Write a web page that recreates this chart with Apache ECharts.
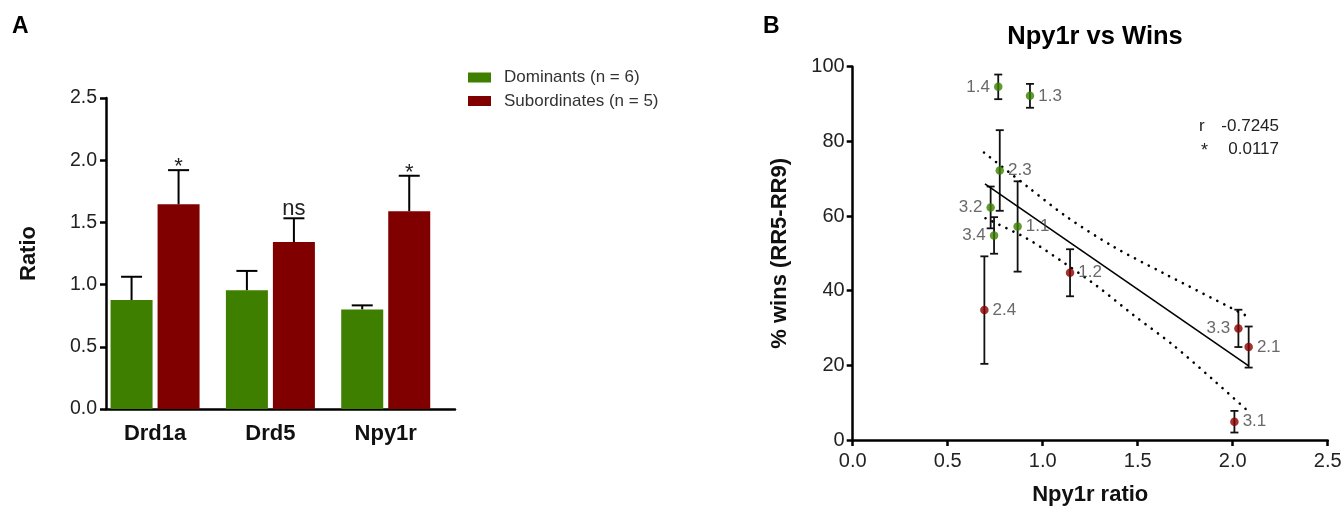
<!DOCTYPE html>
<html>
<head>
<meta charset="utf-8">
<title>Npy1r</title>
<script src="https://cdn.jsdelivr.net/npm/echarts@6/dist/echarts.min.js"></script>
<style>
  html, body { margin: 0; padding: 0; background: #fff; }
  #main { width: 1343px; height: 506px; }
</style>
</head>
<body>
<div id="main"></div>
<script>
// panel A: receptor ratios
const genes = ['Drd1a', 'Drd5', 'Npy1r'];
const domMean = [0.876, 0.954, 0.80];
const domErr = [0.187, 0.156, 0.033];
const subMean = [1.645, 1.342, 1.589];
const subErr = [0.275, 0.191, 0.286];
const sigText = ['*', 'ns', '*'];

// panel B: Npy1r ratio vs % wins, one point per animal
const domNames = ['1.4', '1.3', '2.3', '3.2', '3.4', '1.1'];
const domX = [0.766, 0.933, 0.774, 0.726, 0.744, 0.868];
const domY = [94.6, 92.2, 72.2, 62.3, 54.8, 57.2];
const domYErr = [3.3, 3.2, 10.8, 5.6, 4.9, 12.1];
const subNames = ['2.4', '1.2', '3.3', '2.1', '3.1'];
const subX = [0.693, 1.144, 2.030, 2.084, 2.009];
const subY = [34.8, 44.8, 29.9, 24.9, 4.9];
const subYErr = [14.4, 6.3, 5.0, 5.5, 2.9];
const labelLeft = ['1.4', '3.2', '3.4', '3.3'];

// regression line and 95% band
const fitX = [0.696, 2.082];
const fitY = [68.6, 19.9];
const upperX = [0.691, 0.924, 1.126, 1.372, 1.635, 1.995, 2.082];
const upperY = [77.0, 67.7, 59.8, 51.8, 44.7, 35.3, 33.0];
const lowerX = [0.699, 0.916, 1.091, 1.284, 1.477, 1.687, 1.898, 2.075];
const lowerY = [59.4, 54.0, 48.2, 41.3, 33.5, 25.4, 16.1, 8.0];

const corrR = '-0.7245';
const corrP = '0.0117';

const GREEN = '#3f7f00';
const RED = '#800000';
const FONT = '"Liberation Sans", Arial, sans-serif';
const pair = (xs, ys) => xs.map((x, i) => [x, ys[i]]);

let chartDom = document.getElementById('main');
let myChart = echarts.init(chartDom);

const barW = 42, barGapPx = 5;

function barErrors(offsetSign) {
  return function (params, api) {
    const i = api.value(0);
    const top = api.coord([i, api.value(1) + api.value(2)]);
    const base = api.coord([i, api.value(1)]);
    const x = base[0] + offsetSign * (barW + barGapPx) / 2;
    const children = [
      { type: 'line', shape: { x1: x, y1: base[1], x2: x, y2: top[1] }, style: { stroke: '#000', lineWidth: 2 } },
      { type: 'line', shape: { x1: x - 10.5, y1: top[1], x2: x + 10.5, y2: top[1] }, style: { stroke: '#000', lineWidth: 2 } }
    ];
    if (offsetSign > 0) {
      const star = sigText[i] === '*';
      children.push({
        type: 'text',
        style: {
          x: x, y: top[1] - (star ? 3 : 9), text: sigText[i], align: 'center', verticalAlign: 'middle',
          font: '22px ' + FONT, fill: '#222'
        }
      });
    }
    return { type: 'group', children: children };
  };
}

function pointErrors(params, api) {
  const x = api.value(0), y = api.value(1), e = api.value(2);
  const hi = api.coord([x, y + e]);
  const lo = api.coord([x, y - e]);
  const st = { stroke: '#111', lineWidth: 1.8 };
  return {
    type: 'group',
    children: [
      { type: 'line', shape: { x1: hi[0], y1: hi[1], x2: lo[0], y2: lo[1] }, style: st },
      { type: 'line', shape: { x1: hi[0] - 4, y1: hi[1], x2: hi[0] + 4, y2: hi[1] }, style: st },
      { type: 'line', shape: { x1: lo[0] - 4, y1: lo[1], x2: lo[0] + 4, y2: lo[1] }, style: st }
    ]
  };
}

function points(names, xs, ys) {
  return names.map((n, i) => ({
    name: n,
    value: [xs[i], ys[i]],
    label: { position: labelLeft.includes(n) ? 'left' : 'right' }
  }));
}

const axisBlack = { lineStyle: { color: '#000', width: 2.5 } };
const tickBlack = { inside: false, length: 6, lineStyle: { color: '#000', width: 2.5 } };

let option = {
  animation: false,
  textStyle: { fontFamily: FONT },
  title: [
    { text: 'A', left: 7, top: 10, textStyle: { fontSize: 23, fontWeight: 'bold', color: '#000', fontFamily: FONT } },
    { text: 'B', left: 758, top: 10, textStyle: { fontSize: 23, fontWeight: 'bold', color: '#000', fontFamily: FONT } },
    { text: 'Npy1r vs Wins', left: 1090, textAlign: 'center', top: 19, textStyle: { fontSize: 25.5, fontWeight: 'bold', color: '#000', fontFamily: FONT } }
  ],
  legend: {
    data: ['Dominants (n = 6)', 'Subordinates (n = 5)'],
    orient: 'vertical',
    left: 463,
    top: 64,
    itemWidth: 23,
    itemHeight: 10,
    itemGap: 6.5,
    icon: 'rect',
    textStyle: { fontSize: 17, color: '#333', fontFamily: FONT, padding: [0, 0, 0, 8] }
  },
  graphic: [
    { type: 'text', left: 1199, top: 118, style: { text: 'r', font: '17px ' + FONT, fill: '#222' } },
    { type: 'text', right: 1343 - 1279, top: 118, style: { text: corrR, font: '17px ' + FONT, fill: '#222' } },
    { type: 'text', left: 1201, top: 142, style: { text: '*', font: '18px ' + FONT, fill: '#222' } },
    { type: 'text', right: 1343 - 1279, top: 141, style: { text: corrP, font: '17px ' + FONT, fill: '#222' } }
  ],
  grid: [
    { left: 97.4, top: 98, width: 346, height: 311, outerBoundsMode: 'none' },
    { left: 106, top: 98, width: 349, height: 311, outerBoundsMode: 'none' },
    { left: 852.7, top: 66.7, width: 475, height: 373.3, outerBoundsMode: 'none' }
  ],
  xAxis: [
    {
      gridIndex: 0, type: 'category', data: genes,
      axisLine: { show: false }, axisTick: { show: false },
      axisLabel: { fontSize: 22, fontWeight: 'bold', color: '#111', margin: 14 }
    },
    {
      gridIndex: 1, type: 'value', min: 0, max: 1,
      axisLine: axisBlack, axisTick: { show: false }, axisLabel: { show: false }, splitLine: { show: false }
    },
    {
      gridIndex: 2, type: 'value', min: 0, max: 2.5, interval: 0.5,
      name: 'Npy1r ratio', nameLocation: 'middle', nameGap: 44,
      nameTextStyle: { fontSize: 22, fontWeight: 'bold', color: '#111' },
      axisLine: axisBlack,
      axisTick: tickBlack,
      axisLabel: { fontSize: 20, color: '#222', margin: 11, formatter: v => v.toFixed(1) },
      splitLine: { show: false }
    }
  ],
  yAxis: [
    { gridIndex: 0, type: 'value', min: 0, max: 2.5, show: false },
    {
      gridIndex: 1, type: 'value', min: 0, max: 2.5, interval: 0.5,
      name: 'Ratio', nameLocation: 'middle', nameGap: 66,
      nameTextStyle: { fontSize: 22, fontWeight: 'bold', color: '#111' },
      axisLine: axisBlack,
      axisTick: tickBlack,
      axisLabel: { fontSize: 19.5, color: '#222', margin: 9, formatter: v => v.toFixed(1) },
      splitLine: { show: false }
    },
    {
      gridIndex: 2, type: 'value', min: 0, max: 100, interval: 20,
      name: '% wins (RR5-RR9)', nameLocation: 'middle', nameGap: 62,
      nameTextStyle: { fontSize: 22, fontWeight: 'bold', color: '#111' },
      axisLine: axisBlack,
      axisTick: tickBlack,
      axisLabel: { fontSize: 20, color: '#222', margin: 8 },
      splitLine: { show: false }
    }
  ],
  series: [
    {
      name: 'Dominants (n = 6)', type: 'bar', xAxisIndex: 0, yAxisIndex: 0,
      data: domMean, barWidth: barW, barGap: (barGapPx / barW * 100) + '%',
      itemStyle: { color: GREEN }
    },
    {
      name: 'Subordinates (n = 5)', type: 'bar', xAxisIndex: 0, yAxisIndex: 0,
      data: subMean, barWidth: barW,
      itemStyle: { color: RED }
    },
    {
      type: 'custom', xAxisIndex: 0, yAxisIndex: 0, z: 1,
      data: domMean.map((m, i) => [i, m, domErr[i]]),
      renderItem: barErrors(-1)
    },
    {
      type: 'custom', xAxisIndex: 0, yAxisIndex: 0, z: 1,
      data: subMean.map((m, i) => [i, m, subErr[i]]),
      renderItem: barErrors(1)
    },
    {
      type: 'line', xAxisIndex: 2, yAxisIndex: 2, data: pair(upperX, upperY),
      showSymbol: false, smooth: 0.3, silent: true,
      lineStyle: { color: '#000', width: 2.6, type: [0.1, 7.6], cap: 'round' }
    },
    {
      type: 'line', xAxisIndex: 2, yAxisIndex: 2, data: pair(lowerX, lowerY),
      showSymbol: false, smooth: 0.3, silent: true,
      lineStyle: { color: '#000', width: 2.6, type: [0.1, 7.6], cap: 'round' }
    },
    {
      type: 'line', xAxisIndex: 2, yAxisIndex: 2, data: pair(fitX, fitY),
      showSymbol: false, silent: true,
      lineStyle: { color: '#000', width: 1.6 }
    },
    {
      type: 'custom', xAxisIndex: 2, yAxisIndex: 2,
      data: domX.map((x, i) => [x, domY[i], domYErr[i]]),
      renderItem: pointErrors
    },
    {
      type: 'custom', xAxisIndex: 2, yAxisIndex: 2,
      data: subX.map((x, i) => [x, subY[i], subYErr[i]]),
      renderItem: pointErrors
    },
    {
      type: 'scatter', xAxisIndex: 2, yAxisIndex: 2, z: 5,
      data: points(domNames, domX, domY), symbolSize: 8.5,
      itemStyle: { color: '#3b8000' },
      label: { show: true, formatter: '{b}', fontSize: 17, color: '#444', distance: 4 }
    },
    {
      type: 'scatter', xAxisIndex: 2, yAxisIndex: 2, z: 5,
      data: points(subNames, subX, subY), symbolSize: 8.5,
      itemStyle: { color: '#8b0000' },
      label: { show: true, formatter: '{b}', fontSize: 17, color: '#444', distance: 4 }
    }
  ]
};
myChart.setOption(option);
</script>
</body>
</html>
